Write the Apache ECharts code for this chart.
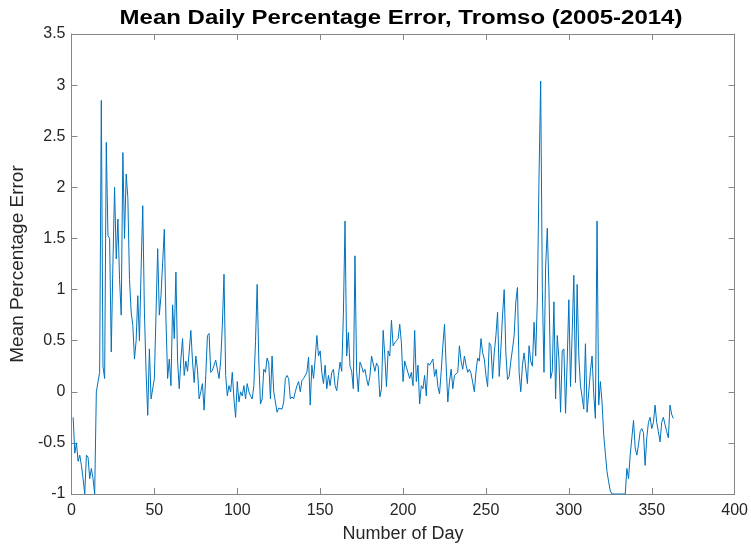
<!DOCTYPE html>
<html>
<head>
<meta charset="utf-8">
<script src="https://cdn.jsdelivr.net/npm/echarts@6/dist/echarts.min.js"></script>
<style>html,body{margin:0;padding:0;background:#fff;}#c{width:751px;height:553px;}</style>
</head>
<body>
<div id="c"></div>
<script>
// Mean percentage error per day of year (days 1..363)
const errorValues = [
-0.25,-0.6,-0.5,-0.68,-0.62,-0.72,-0.85,-1.0,-0.62,-0.64,
-0.85,-0.75,-0.85,-1.0,0.0,0.0,0.19,2.85,0.25,0.13,
2.44,1.53,1.5,0.39,1.25,2.0,1.3,1.69,1.1,0.75,
2.34,1.5,2.13,1.9,1.1,0.78,0.65,0.32,0.5,0.94,
0.5,1.2,1.82,0.78,0.19,-0.23,0.42,-0.07,-0.07,0.13,
0.13,1.4,0.75,0.94,0.94,1.59,0.7,0.13,0.32,0.06,
0.85,0.52,1.17,0.3,0.03,0.32,0.52,0.16,0.3,0.2,
0.39,0.6,0.3,0.09,0.35,0.22,-0.07,0.0,0.08,-0.18,
0.16,0.55,0.57,0.19,0.21,0.26,0.31,0.22,0.13,0.3,
0.65,1.15,0.16,-0.04,0.06,0.0,0.19,-0.07,-0.25,0.1,
-0.1,0.0,-0.04,0.06,-0.07,0.08,0.0,-0.04,-0.07,0.06,
0.49,1.05,0.3,-0.12,-0.07,0.22,0.19,0.33,0.28,-0.07,
0.35,0.0,-0.1,-0.2,-0.16,-0.15,-0.17,-0.1,0.13,0.16,
0.13,-0.07,-0.05,-0.07,0.0,0.06,0.1,0.0,0.11,0.13,
0.16,0.19,0.34,-0.13,0.26,0.13,0.32,0.55,0.35,0.4,
0.19,0.08,0.26,0.03,0.16,0.06,0.19,0.22,0.06,0.01,
0.16,0.29,0.2,0.75,1.67,0.35,0.58,0.25,0.2,0.03,
1.33,0.2,0.0,0.29,0.25,0.19,0.22,0.13,0.06,0.15,
0.35,0.34,0.2,0.28,0.25,-0.05,0.03,0.6,0.35,0.05,
0.4,0.35,0.7,0.45,0.48,0.5,0.52,0.66,0.48,0.1,
0.3,0.24,0.24,0.13,0.19,0.06,0.6,0.1,0.26,-0.12,
0.06,0.03,0.16,-0.04,0.28,0.26,0.29,0.32,0.15,0.22,
0.05,-0.02,0.2,0.45,0.66,0.25,-0.1,0.1,0.22,0.03,
0.16,0.15,0.19,0.45,0.3,0.22,0.35,0.26,0.19,0.22,
0.18,0.09,0.0,0.2,0.33,0.3,0.52,0.38,0.32,0.16,
0.05,0.48,0.45,0.13,0.38,0.55,0.78,0.15,0.42,0.75,
1.0,0.38,0.12,0.15,0.3,0.42,0.55,0.88,1.02,0.19,
0.0,0.26,0.38,0.38,0.08,0.45,0.3,0.25,0.68,0.35,
0.9,2.1,3.04,1.0,0.19,1.23,1.6,1.0,0.13,0.2,
0.88,-0.07,0.55,0.32,-0.2,0.4,0.42,-0.21,0.3,0.9,
0.05,0.58,1.14,0.09,1.05,0.35,0.06,-0.05,-0.17,0.47,
-0.2,0.0,0.2,0.35,-0.02,-0.26,1.67,-0.13,0.1,-0.1,
-0.42,-0.6,-0.78,-0.88,-0.97,-1,-1,-1,-1,-1,
-1,-1,-1,-1,-0.75,-0.85,-0.62,-0.45,-0.28,-0.55,
-0.62,-0.52,-0.39,-0.36,-0.4,-0.72,-0.45,-0.3,-0.25,-0.36,
-0.3,-0.13,-0.3,-0.39,-0.49,-0.3,-0.25,-0.26,-0.39,-0.45,
-0.13,-0.22,-0.26
];
const xTicks = { min: 0, max: 400, step: 50 };
const yTicks = { min: -1, max: 3.5, step: 0.5 };
const titleText = 'Mean Daily Percentage Error, Tromso (2005-2014)';
const xName = 'Number of Day';
const yName = 'Mean Percentage Error';

const axisColor = '#868686';
const labelColor = '#262626';
const font = 'Liberation Sans, Arial, sans-serif';

const seriesData = errorValues.map((v, i) => [i + 1, v]);

function mkX(pos, showLabel) {
  return {
    type: 'value', position: pos, min: xTicks.min, max: xTicks.max, interval: xTicks.step,
    axisLine: { show: true, onZero: false, lineStyle: { color: axisColor, width: 1 } },
    axisTick: { show: true, inside: true, length: 6, lineStyle: { color: axisColor } },
    axisLabel: { show: showLabel, fontSize: 16, color: labelColor, fontFamily: font, margin: 9 },
    splitLine: { show: false },
    name: showLabel ? xName : '', nameLocation: 'middle', nameGap: 31,
    nameTextStyle: { fontSize: 18, color: labelColor, fontFamily: font }
  };
}
function mkY(pos, showLabel) {
  return {
    type: 'value', position: pos, min: yTicks.min, max: yTicks.max, interval: yTicks.step,
    axisLine: { show: true, onZero: false, lineStyle: { color: axisColor, width: 1 } },
    axisTick: { show: true, inside: true, length: 6, lineStyle: { color: axisColor } },
    axisLabel: { show: showLabel, fontSize: 16, color: labelColor, fontFamily: font, margin: 6 },
    splitLine: { show: false },
    name: showLabel ? yName : '', nameLocation: 'middle', nameGap: 37, nameRotate: 90,
    nameTextStyle: { fontSize: 19, color: labelColor, fontFamily: font }
  };
}

const chart = echarts.init(document.getElementById('c'), null, { renderer: 'canvas' });
chart.setOption({
  animation: false,
  backgroundColor: '#ffffff',
  graphic: [{
    type: 'text', x: 401, y: 18, scaleX: 1.2, scaleY: 1,
    style: {
      text: titleText, textAlign: 'center', textVerticalAlign: 'middle',
      font: 'bold 20px Liberation Sans, Arial, sans-serif', fill: '#000'
    }
  }],
  grid: { left: 67, right: 16, top: 34, bottom: 59, containLabel: false },
  xAxis: [mkX('bottom', true), mkX('top', false)],
  yAxis: [mkY('left', true), mkY('right', false)],
  series: [{
    type: 'line', xAxisIndex: 0, yAxisIndex: 0, data: seriesData,
    showSymbol: false, symbol: 'none',
    lineStyle: { color: '#0072BD', width: 1 }
  }]
});
</script>
</body>
</html>
